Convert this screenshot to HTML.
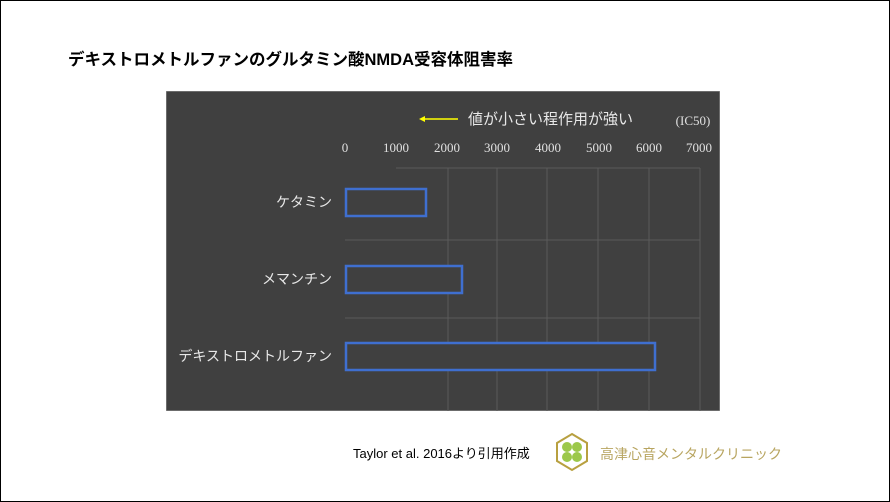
<!DOCTYPE html>
<html><head><meta charset="utf-8"><style>
body{margin:0;width:890px;height:502px;background:#fff;font-family:"Liberation Sans","Noto Sans CJK JP",sans-serif;position:relative;overflow:hidden}
.frame{position:absolute;left:0;top:0;width:888px;height:500px;border:1px solid #000}
.t{position:absolute;white-space:nowrap}
</style></head><body>
<div class="frame"></div>
<div class="t" style="left:68px;top:46px;font-size:16.5px;font-weight:bold;color:#000">デキストロメトルファンのグルタミン酸NMDA受容体阻害率</div>
<svg style="position:absolute;left:166px;top:91px" width="554" height="320">
<rect x="0" y="0" width="554" height="320" fill="#404040" stroke="#999" stroke-width="1"/>
<g stroke="#5a5a5a" stroke-width="1">
<line x1="282" y1="77" x2="282" y2="320"/><line x1="331" y1="77" x2="331" y2="320"/><line x1="381" y1="77" x2="381" y2="320"/><line x1="432" y1="77" x2="432" y2="320"/><line x1="483" y1="77" x2="483" y2="320"/><line x1="534" y1="77" x2="534" y2="320"/>
<line x1="230" y1="77" x2="534" y2="77"/><line x1="179" y1="149" x2="534" y2="149"/><line x1="179" y1="227" x2="534" y2="227"/>
</g>
<line x1="255" y1="28" x2="292" y2="28" stroke="#ffff00" stroke-width="1.5"/>
<polygon points="253,28 259,25 259,31" fill="#ffff00"/>
<g fill="#404040" stroke="#3f6fd0" stroke-width="2.5">
<rect x="180" y="98" width="80" height="27"/>
<rect x="180" y="175" width="116" height="27"/>
<rect x="180" y="252" width="309" height="27"/>
</g>
<g font-family="Liberation Serif,serif" font-size="13" fill="#e0e0e0" text-anchor="middle">
<text x="179" y="61">0</text><text x="230" y="61">1000</text><text x="281" y="61">2000</text><text x="331" y="61">3000</text><text x="382" y="61">4000</text><text x="433" y="61">5000</text><text x="483" y="61">6000</text><text x="533" y="61">7000</text>
<text x="527" y="34">(IC50)</text>
</g>
<g font-family="Liberation Sans,Noto Sans CJK JP,sans-serif" fill="#e8e8e8" font-size="14">
<text x="302" y="33" font-size="15">値が小さい程作用が強い</text>
<text x="166" y="116" text-anchor="end">ケタミン</text>
<text x="166" y="193" text-anchor="end">メマンチン</text>
<text x="166" y="270" text-anchor="end">デキストロメトルファン</text>
</g>
</svg>
<div class="t" style="left:353px;top:443px;font-size:13px;color:#000">Taylor et al. 2016より引用作成</div>
<svg style="position:absolute;left:554px;top:432px" width="36" height="40">
<polygon points="18,2 33,11 33,29 18,38 3,29 3,11" fill="none" stroke="#b8a040" stroke-width="2"/>
<circle cx="13" cy="15" r="5" fill="#9cc84a"/><circle cx="23" cy="15" r="5" fill="#9cc84a"/><circle cx="13" cy="25" r="5" fill="#9cc84a"/><circle cx="23" cy="25" r="5" fill="#9cc84a"/>
</svg>
<div class="t" style="left:600px;top:444px;font-size:14px;color:#b8a560">高津心音メンタルクリニック</div>
</body></html>
